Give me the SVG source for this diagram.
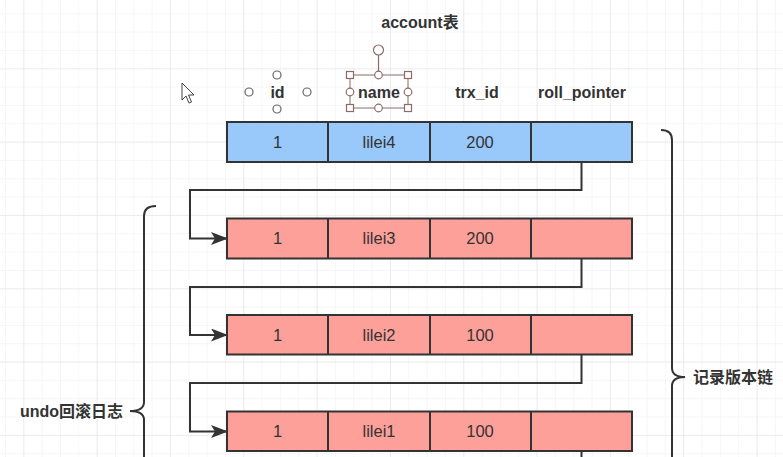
<svg xmlns="http://www.w3.org/2000/svg" width="783" height="457" viewBox="0 0 783 457">
  <defs>
    <pattern id="minor" x="5" y="13.3" width="18.33" height="18.33" patternUnits="userSpaceOnUse">
      <path d="M0,0 V18.33 M0,0 H18.33" fill="none" stroke="#ededed" stroke-width="1"/>
    </pattern>
    <pattern id="major" x="23.3" y="68.3" width="73.33" height="73.33" patternUnits="userSpaceOnUse">
      <path d="M0,0 V73.33 M0,0 H73.33" fill="none" stroke="#e2e2e2" stroke-width="1"/>
    </pattern>
    <marker id="arrow" viewBox="0 0 17 13" refX="16" refY="6.5" markerWidth="17" markerHeight="13" markerUnits="userSpaceOnUse" orient="auto">
      <path d="M0,0 L17,6.5 L0,13 L4,6.5 Z" fill="#333"/>
    </marker>
    <style>
      .title { font-family: "Liberation Sans", "Noto Sans CJK SC", sans-serif; font-weight: bold; font-size: 16px; fill: #333; }
      .cell { font-family: "Liberation Sans", "Noto Sans CJK SC", sans-serif; font-size: 16.5px; fill: #333; text-anchor: middle; }
      .blue { fill: #99c8fb; stroke: #333; stroke-width: 2; }
      .red { fill: #fea09a; stroke: #333; stroke-width: 2; }
      .div { stroke: #333; stroke-width: 2; }
      .conn { fill: none; stroke: #333; stroke-width: 2; }
      .brace { fill: none; stroke: #333; stroke-width: 2; }
      .hnd { fill: #fff; stroke: #8c6a6a; stroke-width: 1.2; }
      .hnd2 { fill: #fff; stroke: #666; stroke-width: 1.2; }
    </style>
  </defs>

  <rect width="783" height="457" fill="#ffffff"/>
  <rect width="783" height="457" fill="url(#minor)"/>
  <rect width="783" height="457" fill="url(#major)"/>

  <g id="title">
    <text class="title" x="420" y="28" text-anchor="middle">account表</text>
  </g>

  <g id="headers">
    <text class="title" x="277.5" y="98" text-anchor="middle">id</text>
    <text class="title" x="379" y="98" text-anchor="middle">name</text>
    <text class="title" x="477" y="98" text-anchor="middle">trx_id</text>
    <text class="title" x="582" y="98" text-anchor="middle">roll_pointer</text>
  </g>

  <g id="selection">
    <circle class="hnd2" cx="277" cy="75" r="4"/>
    <circle class="hnd2" cx="277" cy="109" r="4"/>
    <circle class="hnd2" cx="249" cy="92" r="4"/>
    <circle class="hnd2" cx="307" cy="92" r="4"/>
    <rect x="350" y="75" width="58" height="33" fill="none" stroke="#8c6a6a" stroke-width="1"/>
    <line x1="378.5" y1="55" x2="378.5" y2="75" stroke="#8c6a6a" stroke-width="1.2"/>
    <circle class="hnd" cx="378.5" cy="50" r="5"/>
    <rect class="hnd" x="346.5" y="71.5" width="7" height="7"/>
    <rect class="hnd" x="404.5" y="71.5" width="7" height="7"/>
    <rect class="hnd" x="346.5" y="104.5" width="7" height="7"/>
    <rect class="hnd" x="404.5" y="104.5" width="7" height="7"/>
    <circle class="hnd" cx="378.5" cy="75" r="3.8"/>
    <circle class="hnd" cx="378.5" cy="108" r="3.8"/>
    <circle class="hnd" cx="350" cy="92" r="3.8"/>
    <circle class="hnd" cx="408" cy="92" r="3.8"/>
  </g>

  <g id="cursor">
    <path d="M182,83 L182,100 L186,96 L189,103 L191.5,102 L188.5,95 L194,95 Z" fill="#fff" stroke="#444" stroke-width="1"/>
  </g>

  <g id="connectors">
    <path class="conn" d="M581.5,162 V190 H190 V238.5 H227" marker-end="url(#arrow)"/>
    <path class="conn" d="M581.5,258 V287 H190 V335 H227" marker-end="url(#arrow)"/>
    <path class="conn" d="M581.5,355 V383 H190 V431.5 H227" marker-end="url(#arrow)"/>
    <path class="conn" d="M581.5,451 V460"/>
  </g>

  <g id="row1">
    <rect class="blue" x="227" y="122" width="405" height="40"/>
    <line class="div" x1="328" y1="122" x2="328" y2="162"/>
    <line class="div" x1="430" y1="122" x2="430" y2="162"/>
    <line class="div" x1="531" y1="122" x2="531" y2="162"/>
    <text class="cell" x="277.5" y="148">1</text>
    <text class="cell" x="379" y="148">lilei4</text>
    <text class="cell" x="480" y="148">200</text>
  </g>

  <g id="row2">
    <rect class="red" x="227" y="218.5" width="405" height="40"/>
    <line class="div" x1="328" y1="218.5" x2="328" y2="258.5"/>
    <line class="div" x1="430" y1="218.5" x2="430" y2="258.5"/>
    <line class="div" x1="531" y1="218.5" x2="531" y2="258.5"/>
    <text class="cell" x="277.5" y="244">1</text>
    <text class="cell" x="379" y="244">lilei3</text>
    <text class="cell" x="480" y="244">200</text>
  </g>

  <g id="row3">
    <rect class="red" x="227" y="315" width="405" height="39.5"/>
    <line class="div" x1="328" y1="315" x2="328" y2="354.5"/>
    <line class="div" x1="430" y1="315" x2="430" y2="354.5"/>
    <line class="div" x1="531" y1="315" x2="531" y2="354.5"/>
    <text class="cell" x="277.5" y="341">1</text>
    <text class="cell" x="379" y="341">lilei2</text>
    <text class="cell" x="480" y="341">100</text>
  </g>

  <g id="row4">
    <rect class="red" x="227" y="411.5" width="405" height="39.5"/>
    <line class="div" x1="328" y1="411.5" x2="328" y2="451"/>
    <line class="div" x1="430" y1="411.5" x2="430" y2="451"/>
    <line class="div" x1="531" y1="411.5" x2="531" y2="451"/>
    <text class="cell" x="277.5" y="437">1</text>
    <text class="cell" x="379" y="437">lilei1</text>
    <text class="cell" x="480" y="437">100</text>
  </g>

  <g id="undo-brace">
    <path class="brace" d="M156,206 Q144,206 144,216 V402 Q144,411 130,411 Q144,411 144,420 V460"/>
    <text class="title" x="123" y="417" text-anchor="end">undo回滚日志</text>
  </g>

  <g id="chain-brace">
    <path class="brace" d="M661,130 Q672,130 672,140 V368 Q672,377 685,377 Q672,377 672,386 V460"/>
    <text class="title" x="693" y="383">记录版本链</text>
  </g>
</svg>
